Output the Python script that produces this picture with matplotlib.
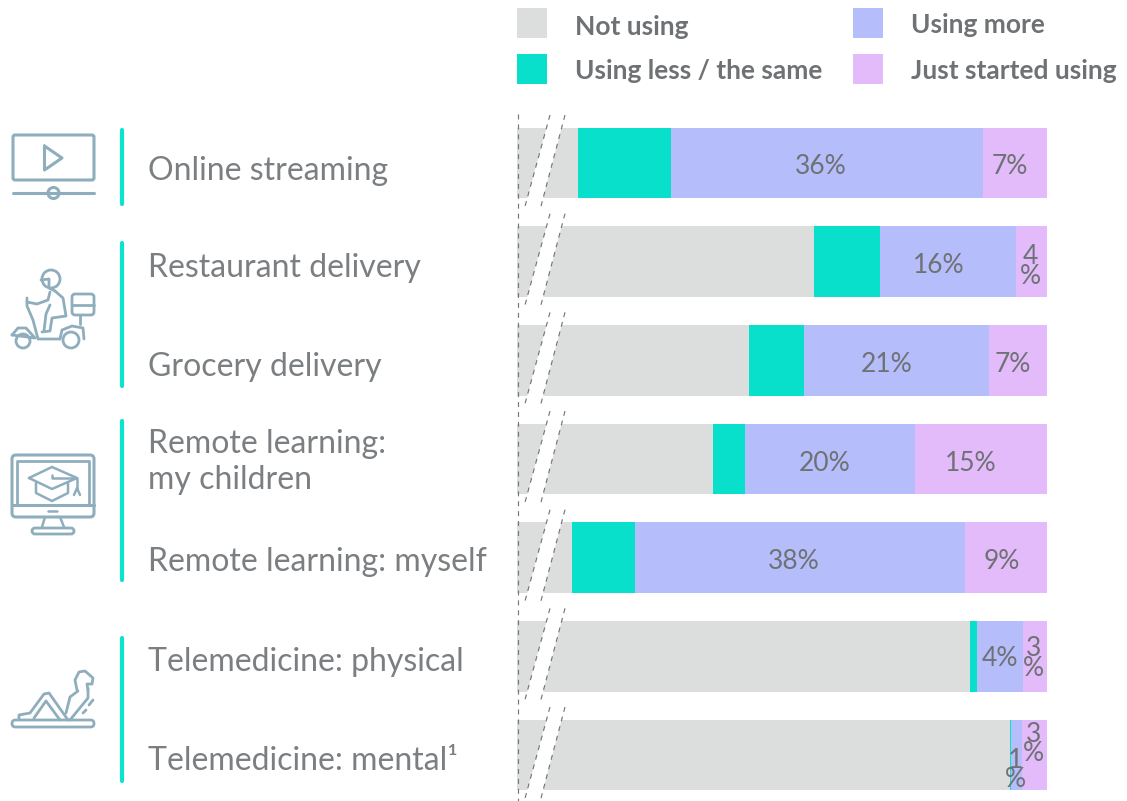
import numpy as np
import matplotlib
matplotlib.use("Agg")
import matplotlib.pyplot as plt
from matplotlib.patches import Circle, FancyBboxPatch, Polygon, Rectangle

plt.rcParams["font.family"] = ["Lato", "DejaVu Sans"]

categories = [
    "Online streaming",
    "Restaurant delivery",
    "Grocery delivery",
    "Remote learning:\nmy children",
    "Remote learning: myself",
    "Telemedicine: physical",
    "Telemedicine: mental\u00b9",
]
series_names = ["Not using", "Using less / the same", "Using more", "Just started using"]
not_using = [45.9, 73.1, 65.6, 61.5, 45.2, 91.1, 95.7]
using_less = [10.7, 7.6, 6.4, 3.7, 7.3, 0.8, 0.2]
using_more = [36.0, 15.7, 21.3, 19.6, 38.0, 5.3, 1.2]
just_started = [7.4, 3.6, 6.7, 15.2, 9.5, 2.8, 2.9]
more_labels = ["36%", "16%", "21%", "20%", "38%", "4%", "1\n%"]
started_labels = ["7%", "4\n%", "7%", "15%", "9%", "3\n%", "3\n%"]

GREY = "#DCDEDD"
TEAL = "#08E0CB"
BLUE = "#B5BDFB"
PINK = "#E3BBFB"
TEXT = "#6F7274"
ICON = "#8FAEBD"
W, H = 1127, 801

# pixel nudges of the value labels, the source places them off-centre
more_dx = [-6, -9, -10, -6, -6, 0, -1]
more_dy = [4, 4, 4, 4, 4, 2, 15]
started_dx = [-5, -1, -5, -10, -4, -1, -1]
started_dy = [4, 5, 4, 4, 4, 2, -11]

fig = plt.figure(figsize=(W / 100, H / 100), dpi=100, facecolor="white")

# bar axes, placed in pixels: x 517-1047, rows 98.67 px apart
ax = fig.add_axes([517 / W, 1 - 801 / H, 530 / W, 689 / H])
ax.set_xlim(100 - 530 / 8.67, 100)
ax.set_ylim((801 - 163) / 98.67, -(163 - 112) / 98.67)
ax.axis("off")

y = np.arange(len(categories))
left = np.zeros(len(categories))
series = [not_using, using_less, using_more, just_started]
for values, color in zip(series, [GREY, TEAL, BLUE, PINK]):
    ax.barh(y, values, left=left, height=0.715, color=color, linewidth=0)
    left += np.array(values)

more_left = np.array(not_using) + np.array(using_less)
started_left = more_left + np.array(using_more)
for i in y:
    ax.annotate(more_labels[i], (more_left[i] + using_more[i] / 2, i),
                xytext=(more_dx[i] * 0.72, -more_dy[i] * 0.72),
                textcoords="offset points", ha="center", va="center", fontsize=19,
                color=TEXT, linespacing=0.72)
    ax.annotate(started_labels[i], (started_left[i] + just_started[i] / 2, i),
                xytext=(started_dx[i] * 0.72, -started_dy[i] * 0.72),
                textcoords="offset points", ha="center", va="center", fontsize=19,
                color=TEXT, linespacing=0.72)

# overlay in image pixels for the legend, labels, axis break and icons
ov = fig.add_axes([0, 0, 1, 1], facecolor="none")
ov.set_xlim(0, W)
ov.set_ylim(H, 0)
ov.axis("off")

legend_pos = [(517, 8, 575, 27), (517, 54, 575, 71), (853, 8, 911, 25), (853, 54, 911, 71)]
for name, color, (bx, by, tx, ty) in zip(series_names, [GREY, TEAL, BLUE, PINK], legend_pos):
    ov.add_patch(Rectangle((bx, by), 30, 30, color=color, linewidth=0))
    ov.text(tx, ty, name, ha="left", va="center", fontsize=19, fontweight="bold", color=TEXT)

label_y = [171, 268, 367, 462, 562, 662, 761]
for name, ly in zip(categories, label_y):
    ov.text(148, ly, name, ha="left", va="center", fontsize=23, color="#7B7F81", linespacing=1.22)

for y0, y1 in [(130, 204), (243, 386), (421, 580), (638, 781)]:
    ov.plot([121.5, 121.5], [y0, y1], color="#0BE3CC", lw=3, solid_capstyle="round")

# axis break
dash = dict(color="#777777", lw=0.85, linestyle=(0, (4.2, 4.2)))
ov.plot([517.5, 517.5], [114, 801], **dash)
for i in range(7):
    dy = 98.67 * i
    ov.add_patch(Polygon([(550, 115 + dy), (565, 115 + dy), (540, 210 + dy), (524, 210 + dy)],
                         color="white", linewidth=0))
    ov.plot([550, 524], [115 + dy, 210 + dy], **dash)
    ov.plot([565, 540], [115 + dy, 210 + dy], **dash)


def line(points, lw=2.2):
    xs, ys = zip(*points)
    ov.plot(xs, ys, color=ICON, lw=lw, solid_capstyle="round", solid_joinstyle="round")


def box(x, y, w, h, lw=2.2, r=2):
    ov.add_patch(FancyBboxPatch((x, y), w, h, boxstyle=f"round,pad=0,rounding_size={r}",
                                fc="none", ec=ICON, lw=lw))


def ring(x, y, r, lw=2.2, fc="none"):
    ov.add_patch(Circle((x, y), r, fc=fc, ec=ICON, lw=lw))


# play icon
box(13, 135, 81, 45)
line([(44.5, 146), (62, 158), (44.5, 170), (44.5, 146)])
line([(13, 193), (94, 193)])
ring(53.5, 193, 5.5, fc="white")

# scooter icon
ring(51, 279, 9, lw=2)
line([(41, 280), (49, 279), (49, 288), (55, 291)], lw=2)
line([(55, 291), (63, 298), (66, 316), (52, 318), (50, 331), (42, 332)], lw=2)
line([(50, 292), (48, 300), (37, 304), (27, 302)], lw=2)
line([(50, 305), (46, 314), (44, 331)], lw=2)
box(72, 294, 22, 21, lw=2, r=3)
line([(72, 305), (94, 305)], lw=2)
line([(80, 315), (80, 324)], lw=2)
line([(27, 298), (27, 306), (33, 320), (38, 339), (60, 339)], lw=2)
line([(60, 339), (62, 330), (72, 326), (83, 328), (84, 339)], lw=2)
line([(12, 335), (18, 328), (26, 328), (35, 338), (12, 335)], lw=2)
ring(23, 341, 7, lw=2)
ring(71, 340, 8, lw=2, fc="white")

# monitor with graduation cap
box(12, 455, 82, 62, r=4)
line([(17, 505), (17, 461), (89, 461), (89, 505)], lw=2)
line([(12, 505), (94, 505)])
line([(48, 511), (57, 511)], lw=1.8)
line([(45, 517), (42, 527)], lw=1.8)
line([(60, 517), (64, 527)], lw=1.8)
box(32, 528, 42, 6, lw=2, r=3)
line([(29, 478), (52, 467), (77, 478), (52, 489), (29, 478)], lw=1.8)
line([(36, 483), (36, 493), (52, 501), (68, 493), (68, 483)], lw=1.8)
line([(52, 475), (52, 478), (77, 478), (77, 490)], lw=1.8)
line([(74, 495), (77, 488), (80, 495)], lw=1.8)

# telemedicine / reclining figure icon
box(12, 720, 82, 7, lw=2, r=3.5)
line([(19, 719), (19, 715), (30, 713), (44, 694), (49, 693), (68, 720)], lw=2)
line([(34, 718), (46, 701), (60, 720)], lw=2)
line([(66, 713), (70, 697), (78, 691)], lw=2)
line([(70, 720), (88, 698), (88, 688)], lw=2)
line([(77, 690), (75, 680), (79, 672), (85, 671), (93, 678), (92, 684), (87, 684), (88, 690)], lw=2)
line([(83, 713), (86, 710)], lw=2)
line([(89, 705), (93, 700)], lw=2)

fig.savefig("out.png", dpi=100)
